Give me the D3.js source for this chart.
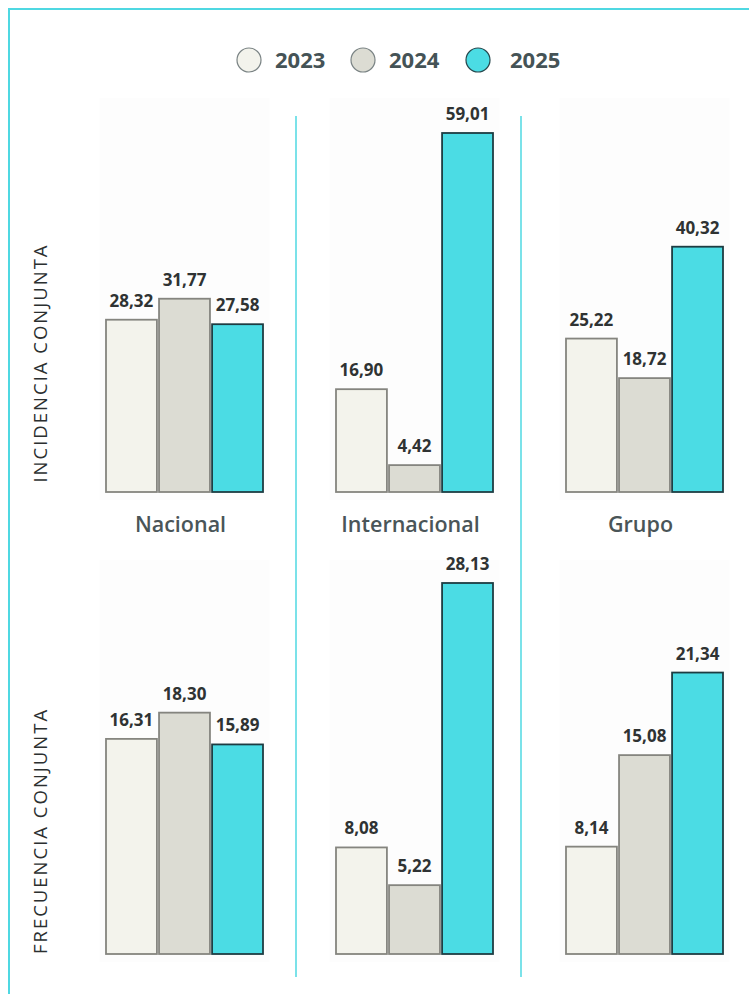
<!DOCTYPE html>
<meta charset="utf-8">
<script src="https://d3js.org/d3.v7.min.js"></script>
<style>
  body { margin: 0; background: #fff; }
  svg text { font-family: "Open Sans", "Noto Sans", sans-serif; }
</style>
<div id="my_dataviz"></div>
<script>
  // data
  var years = ["2023", "2024", "2025"];
  var groups = ["Nacional", "Internacional", "Grupo"];
  var rows = ["INCIDENCIA CONJUNTA", "FRECUENCIA CONJUNTA"];
  var incidencia = [[28.32, 31.77, 27.58], [16.90, 4.42, 59.01], [25.22, 18.72, 40.32]];
  var frecuencia = [[16.31, 18.30, 15.89], [8.08, 5.22, 28.13], [8.14, 15.08, 21.34]];
  var rowValues = [incidencia, frecuencia];

  var fills = { "2023": "#f3f3ec", "2024": "#dcdcd3", "2025": "#4bdce4" };
  var strokes = { "2023": "#85857f", "2024": "#85857f", "2025": "#1d3c42" };
  var cyan = "#4fd8e2";

  var width = 749, height = 994;

  var svg = d3.select("#my_dataviz")
    .append("svg")
    .attr("width", width)
    .attr("height", height);

  // frame (top + left edges)
  svg.append("path")
    .attr("d", "M9,994V9H749")
    .attr("fill", "none")
    .attr("stroke", cyan)
    .attr("stroke-width", 2);

  // outer and inner band scales
  var x = d3.scaleBand().domain(groups).range([69.5, 759.5]);
  var xi = d3.scaleBand().domain(years).range([-78.5, 78.5]).paddingInner(0.04);

  // rows: baseline and top of tallest bar
  var rowGeo = [
    { base: 492, top: 133, label: 363, bgTop: 98 },
    { base: 954, top: 583, label: 831, bgTop: 560 }
  ];

  // faint panel backgrounds
  rowGeo.forEach(function (r) {
    svg.append("g").selectAll("rect")
      .data(groups)
      .enter()
      .append("rect")
      .attr("x", d => x(d) + x.bandwidth() / 2 - 85)
      .attr("y", r.bgTop)
      .attr("width", 170)
      .attr("height", r.base - r.bgTop + 8)
      .attr("fill", "#fdfdfd");
  });

  // dividers
  var divX = [296, 521];
  svg.append("g").selectAll("line")
    .data(divX)
    .enter()
    .append("line")
    .attr("x1", d => d)
    .attr("x2", d => d)
    .attr("y1", 116)
    .attr("y2", 977)
    .attr("stroke", cyan)
    .attr("stroke-width", 1.5);

  rowGeo.forEach(function (r, ri) {
    var vals = rowValues[ri];
    var maxV = d3.max(vals, v => d3.max(v));
    var y = d3.scaleLinear().domain([0, maxV]).range([r.base, r.top]);

    var data = [];
    groups.forEach(function (g, gi) {
      years.forEach(function (yr, yi) {
        data.push({ group: g, year: yr, value: vals[gi][yi] });
      });
    });

    var g = svg.append("g");

    g.selectAll("rect")
      .data(data)
      .enter()
      .append("rect")
      .attr("x", d => x(d.group) + x.bandwidth() / 2 + xi(d.year))
      .attr("y", d => y(d.value))
      .attr("width", xi.bandwidth())
      .attr("height", d => r.base - y(d.value))
      .attr("fill", d => fills[d.year])
      .attr("stroke", d => strokes[d.year])
      .attr("stroke-width", 1.8);

    g.selectAll("text.val")
      .data(data)
      .enter()
      .append("text")
      .attr("class", "val")
      .attr("x", d => x(d.group) + x.bandwidth() / 2 + xi(d.year) + xi.bandwidth() / 2)
      .attr("y", d => y(d.value) - 13)
      .attr("text-anchor", "middle")
      .attr("font-size", 17)
      .attr("font-weight", 700)
      .attr("fill", "#2f3333")
      .text(d => d3.format(".2f")(d.value).replace(".", ","));

    // row label
    svg.append("text")
      .attr("transform", "translate(47," + r.label + ") rotate(-90)")
      .attr("text-anchor", "middle")
      .attr("font-size", 18.5)
      .attr("letter-spacing", 2)
      .attr("fill", "#2b2f30")
      .text(rows[ri]);
  });

  // category labels
  svg.append("g").selectAll("text")
    .data(groups)
    .enter()
    .append("text")
    .attr("x", d => x(d) + x.bandwidth() / 2 - 4)
    .attr("y", 532)
    .attr("text-anchor", "middle")
    .attr("font-size", 21.5)
    .attr("font-weight", 600)
    .attr("fill", "#4a5558")
    .text(d => d);

  // legend
  var legendX = [249, 363, 478];
  var legend = svg.append("g").selectAll("g")
    .data(years)
    .enter()
    .append("g")
    .attr("transform", (d, i) => "translate(" + legendX[i] + ",60)");

  legend.append("circle")
    .attr("r", 12)
    .attr("fill", d => fills[d])
    .attr("stroke", d => d === "2025" ? "#27474c" : "#7a8384")
    .attr("stroke-width", 1.2);

  legend.append("text")
    .attr("x", (d, i) => i === 2 ? 32 : 26)
    .attr("y", 8)
    .attr("font-size", 22)
    .attr("font-weight", 700)
    .attr("fill", "#455356")
    .text(d => d);
</script>
